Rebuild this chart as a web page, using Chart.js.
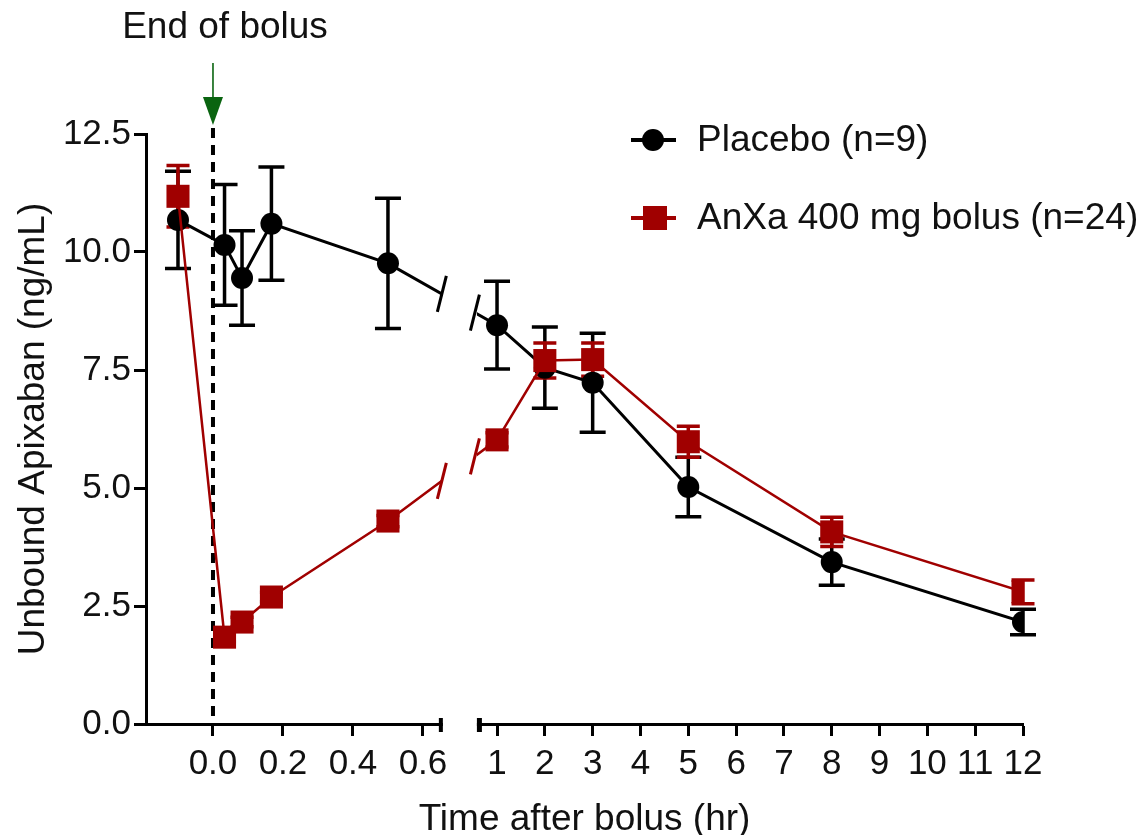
<!DOCTYPE html>
<html><head><meta charset="utf-8">
<script src="https://cdn.jsdelivr.net/npm/chart.js@4.4.1/dist/chart.umd.min.js"></script>
<style>html,body{margin:0;padding:0;background:#fff;overflow:hidden}</style>
</head><body>
<canvas id="c" width="1146" height="835"></canvas>
<script>
// ---- data ----
const timesHr = [-0.1, 0.033, 0.083, 0.167, 0.5, 1, 2, 3, 5, 8, 12];
const placeboMean = [10.68, 10.15, 9.45, 10.60, 9.76, 8.45, 7.55, 7.23, 5.02, 3.43, 2.16];
const placeboErr  = [1.03, 1.28, 1.00, 1.20, 1.38, 0.93, 0.86, 1.05, 0.63, 0.49, 0.27];
const anxaMean = [11.18, 1.84, 2.16, 2.69, 4.30, 6.02, 7.70, 7.72, 5.98, 4.07, 2.80];
const anxaErr  = [0.65, 0.10, 0.10, 0.10, 0.12, 0.15, 0.37, 0.35, 0.33, 0.31, 0.25];
const leftTicks = [0, 0.2, 0.4, 0.6];
const leftTickLabels = ['0.0', '0.2', '0.4', '0.6'];
const rightTicks = [1, 2, 3, 4, 5, 6, 7, 8, 9, 10, 11, 12];
const rightTickLabels = ['1', '2', '3', '4', '5', '6', '7', '8', '9', '10', '11', '12'];
const yTickValues = [0, 2.5, 5, 7.5, 10, 12.5];
const seriesNames = ['Placebo (n=9)', 'AnXa 400 mg bolus (n=24)'];
const xTitle = 'Time after bolus (hr)';
const yTitle = 'Unbound Apixaban (ng/mL)';
const bolusLabel = 'End of bolus';

// ---- broken axis mapping (left segment in hours, right segment compressed) ----
const LEFT_MAX = 0.654, GAP = 0.103, RIGHT_MIN = 0.6, RIGHT_SCALE = 0.13663;
function toAxis(t) { return t < 0.7 ? t : LEFT_MAX + GAP + (t - RIGHT_MIN) * RIGHT_SCALE; }
const X_MIN = -0.1914, X_MAX = toAxis(12);
const xTickVals = leftTicks.concat(rightTicks).map(toAxis);
const xTickLabels = leftTickLabels.concat(rightTickLabels);

const FONT = '"Liberation Sans", Arial, sans-serif';
const RED = '#a00000', BLACK = '#000000', GREEN = '#0a6410';

const errSets = [
  { mean: placeboMean, err: placeboErr, color: BLACK, cap: 13, width: 3.5 },
  { mean: anxaMean, err: anxaErr, color: RED, cap: 11.5, width: 3.5 }
];

const decorPlugin = {
  id: 'decor',
  beforeDatasetsDraw(chart) {
    const { ctx, scales: { x, y }, chartArea } = chart;
    ctx.save();
    // dashed end-of-bolus line
    const x0 = x.getPixelForValue(toAxis(0));
    ctx.strokeStyle = BLACK; ctx.lineWidth = 4; ctx.setLineDash([10, 7]);
    ctx.beginPath(); ctx.moveTo(x0, 128); ctx.lineTo(x0, chartArea.bottom); ctx.stroke();
    ctx.setLineDash([]);
    // error bars
    errSets.forEach(s => {
      ctx.strokeStyle = s.color; ctx.lineWidth = s.width;
      timesHr.forEach((t, i) => {
        const px = x.getPixelForValue(toAxis(t));
        const yt = y.getPixelForValue(s.mean[i] + s.err[i]);
        const yb = y.getPixelForValue(s.mean[i] - s.err[i]);
        ctx.beginPath();
        ctx.moveTo(px, yt); ctx.lineTo(px, yb);
        ctx.moveTo(px - s.cap, yt); ctx.lineTo(px + s.cap, yt);
        ctx.moveTo(px - s.cap, yb); ctx.lineTo(px + s.cap, yb);
        ctx.stroke();
      });
    });
    ctx.restore();
  },
  afterDatasetsDraw(chart) {
    const { ctx, scales: { x }, chartArea } = chart;
    const pL = x.getPixelForValue(LEFT_MAX);
    const pR = x.getPixelForValue(LEFT_MAX + GAP);
    ctx.save();
    // blank the gap
    ctx.fillStyle = '#ffffff';
    ctx.fillRect(pL + 1, chartArea.top - 10, pR - pL - 2, chartArea.bottom - chartArea.top + 13);
    // axis segment caps
    ctx.fillStyle = BLACK;
    ctx.fillRect(pL - 3, chartArea.bottom - 6, 4, 14);
    ctx.fillRect(pR - 1, chartArea.bottom - 6, 5, 14);
    // break marks on lines
    chart.data.datasets.forEach((ds, di) => {
      const pts = chart.getDatasetMeta(di).data;
      for (let i = 0; i < pts.length - 1; i++) {
        const a = pts[i], b = pts[i + 1];
        if (a.x < pL && b.x > pR) {
          ctx.strokeStyle = ds.borderColor; ctx.lineWidth = 3;
          [pL, pR - 3].forEach(xm => {
            const ym = a.y + (b.y - a.y) * (xm - a.x) / (b.x - a.x);
            ctx.beginPath(); ctx.moveTo(xm + 4.5, ym - 18); ctx.lineTo(xm - 4.5, ym + 18); ctx.stroke();
          });
        }
      }
    });
    ctx.restore();
  },
  afterDraw(chart) {
    const { ctx, scales: { x } } = chart;
    const x0 = x.getPixelForValue(toAxis(0));
    ctx.save();
    // label and arrow
    ctx.fillStyle = '#111'; ctx.font = '37px ' + FONT;
    ctx.textAlign = 'center'; ctx.textBaseline = 'middle';
    ctx.fillText(bolusLabel, x0 + 12, 28);
    ctx.strokeStyle = GREEN; ctx.lineWidth = 1.6;
    ctx.beginPath(); ctx.moveTo(x0, 63); ctx.lineTo(x0, 100); ctx.stroke();
    ctx.fillStyle = GREEN;
    ctx.beginPath(); ctx.moveTo(x0 - 10, 97); ctx.lineTo(x0 + 10, 97); ctx.lineTo(x0, 125); ctx.closePath(); ctx.fill();
    // legend
    const items = [
      { y: 140, color: BLACK, shape: 'circle', text: seriesNames[0] },
      { y: 218, color: RED, shape: 'rect', text: seriesNames[1] }
    ];
    items.forEach(it => {
      ctx.strokeStyle = it.color; ctx.lineWidth = 4;
      ctx.beginPath(); ctx.moveTo(631, it.y); ctx.lineTo(676, it.y); ctx.stroke();
      ctx.fillStyle = it.color;
      if (it.shape === 'circle') { ctx.beginPath(); ctx.arc(653, it.y, 11, 0, Math.PI * 2); ctx.fill(); }
      else { ctx.fillRect(643, it.y - 12, 24, 24); }
      ctx.fillStyle = '#111'; ctx.textAlign = 'left'; ctx.textBaseline = 'middle';
      ctx.fillText(it.text, 697, it.y + 1);
    });
    ctx.restore();
  }
};

new Chart(document.getElementById('c'), {
  type: 'line',
  data: {
    datasets: [
      {
        label: seriesNames[0], order: 2,
        data: timesHr.map((t, i) => ({ x: toAxis(t), y: placeboMean[i] })),
        borderColor: BLACK, backgroundColor: BLACK, borderWidth: 3,
        pointStyle: 'circle', pointRadius: 11, pointHoverRadius: 11, pointBorderWidth: 0,
        tension: 0
      },
      {
        label: seriesNames[1], order: 1,
        data: timesHr.map((t, i) => ({ x: toAxis(t), y: anxaMean[i] })),
        borderColor: RED, backgroundColor: RED, borderWidth: 2.5,
        pointStyle: 'rect', pointRadius: 16.3, pointHoverRadius: 16.3, pointBorderWidth: 0,
        tension: 0
      }
    ]
  },
  options: {
    responsive: false, animation: false, devicePixelRatio: 1, events: [],
    layout: { padding: { top: 134, right: 123, left: 0, bottom: 0 } },
    plugins: { legend: { display: false }, tooltip: { enabled: false } },
    scales: {
      x: {
        type: 'linear', min: X_MIN, max: X_MAX,
        afterBuildTicks: s => { s.ticks = xTickVals.map(v => ({ value: v })); },
        afterFit: s => { s.height = 111; },
        ticks: {
          autoSkip: false, maxRotation: 0, padding: 7, color: '#111',
          font: { family: FONT, size: 35 },
          callback: (v, i) => xTickLabels[i]
        },
        grid: { drawOnChartArea: false, tickLength: 12, tickWidth: 3, tickColor: BLACK },
        border: { display: true, width: 3, color: BLACK },
        title: { display: true, text: xTitle, color: '#111', font: { family: FONT, size: 37, lineHeight: 0.8 }, padding: { top: 0, bottom: 0 } }
      },
      y: {
        type: 'linear', min: 0, max: 12.5,
        afterBuildTicks: s => { s.ticks = yTickValues.map(v => ({ value: v })); },
        afterFit: s => { s.width = 146; },
        ticks: {
          padding: 3, color: '#111', font: { family: FONT, size: 35 },
          callback: v => v.toFixed(1)
        },
        grid: { drawOnChartArea: false, tickLength: 12, tickWidth: 3, tickColor: BLACK },
        border: { display: true, width: 3, color: BLACK },
        title: { display: true, text: yTitle, color: '#111', font: { family: FONT, size: 37 }, padding: { top: 12, bottom: 0 } }
      }
    }
  },
  plugins: [decorPlugin]
});
</script>
</body></html>
